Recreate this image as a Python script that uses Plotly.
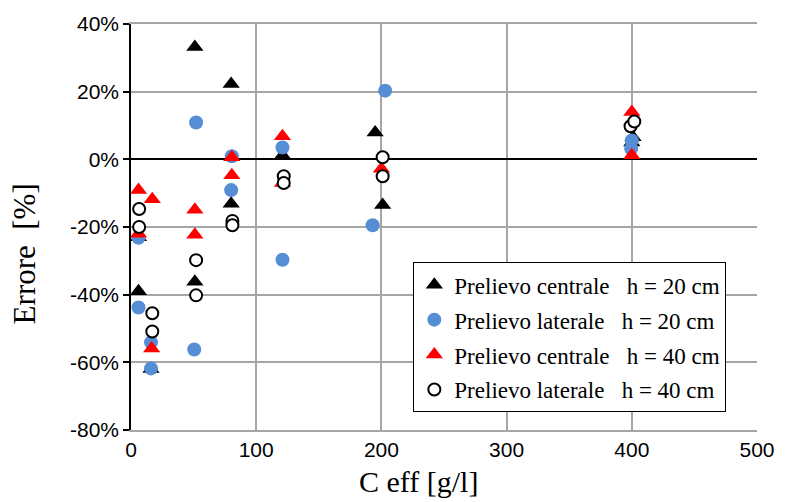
import plotly.graph_objects as go

# Data (x: C eff [g/l], y: Errore [%])
cen20_x = [6, 6, 16, 51, 51, 80, 80, 121, 195, 201, 401, 400]
cen20_y = [-39, -23, -62, 33.2, -36.2, 22.3, -13.1, 1.2, 7.9, -13.5, 6.5, 5]

lat20_x = [6, 6, 16, 16, 52, 50.5, 80.5, 80, 121, 121, 193, 203, 400, 399.5]
lat20_y = [-23.2, -43.8, -54.1, -61.8, 10.9, -56.2, 0.9, -9.1, 3.5, -29.7, -19.5, 20.3, 5.6, 3.2]

cen40_x = [6, 6, 17, 16.5, 51, 51, 80.5, 80.5, 121, 121, 200, 400, 400]
cen40_y = [-9.1, -22, -11.8, -55.9, -14.9, -22.3, 0.6, -4.7, 6.8, -7, -2.8, 14, 1.2]

lat40_x = [6.5, 6.5, 17, 17, 52, 52, 81, 81, 122, 122, 201, 201, 399, 402]
lat40_y = [-14.7, -20, -45.5, -50.9, -29.8, -40.2, -18.2, -19.5, -5, -7, 0.6, -5, 9.8, 11.2]

names = [
    "Prelievo centrale\u00a0\u00a0 h = 20 cm",
    "Prelievo laterale\u00a0\u00a0 h = 20 cm",
    "Prelievo centrale\u00a0\u00a0 h = 40 cm",
    "Prelievo laterale\u00a0\u00a0 h = 40 cm",
]

y_tickvals = [40, 20, 0, -20, -40, -60, -80]
y_ticktext = ["40%", "20%", "0%", "-20%", "-40%", "-60%", "-80%"]
x_tickvals = [0, 100, 200, 300, 400, 500]

fig = go.Figure()
fig.add_trace(go.Scatter(x=cen20_x, y=cen20_y, mode="markers", name=names[0], legendgroup="a",
                         marker=dict(symbol="triangle-up", size=15, color="black")))
fig.add_trace(go.Scatter(x=lat20_x, y=lat20_y, mode="markers", name=names[1], legendgroup="b",
                         marker=dict(symbol="circle", size=14, color="#558ED5")))
fig.add_trace(go.Scatter(x=cen40_x, y=cen40_y, mode="markers", name=names[2], legendgroup="c",
                         marker=dict(symbol="triangle-up", size=15, color="#FF0000")))
fig.add_trace(go.Scatter(x=lat40_x, y=lat40_y, mode="markers", name=names[3], legendgroup="d",
                         marker=dict(symbol="circle", size=12, color="white",
                                     line=dict(color="black", width=2))))

grid = "#A6A6A6"
fig.update_layout(
    width=787, height=502,
    margin=dict(l=131, r=18, t=18, b=72),
    paper_bgcolor="white", plot_bgcolor="white",
    font=dict(family="Liberation Sans", size=21, color="black"),
    showlegend=True,
    legend=dict(x=0.451, y=0.413, xanchor="left", yanchor="top",
                bgcolor="white", bordercolor="black", borderwidth=1,
                font=dict(family="Liberation Serif", size=23, color="black"),
                tracegroupgap=2, traceorder="grouped"),
    xaxis=dict(range=[0, 500], tickvals=x_tickvals, showgrid=True, gridcolor=grid, gridwidth=1.5,
               showline=True, linecolor=grid, linewidth=1.5, mirror=True, zeroline=False,
               ticks="", tickfont=dict(family="Liberation Sans", size=21)),
    yaxis=dict(range=[-80, 40], tickvals=y_tickvals, ticktext=y_ticktext, showgrid=True,
               gridcolor=grid, gridwidth=1.5, zeroline=True, zerolinecolor="black", zerolinewidth=1.5,
               showline=True, linecolor="black", linewidth=1.5, ticks="outside", ticklen=6,
               tickcolor="black", tickwidth=1.5, tickfont=dict(family="Liberation Sans", size=21)),
    annotations=[
        dict(text="C eff [g/l]", xref="paper", yref="paper", x=0.46, y=-0.127,
             xanchor="center", yanchor="middle", showarrow=False,
             font=dict(family="Liberation Serif", size=30, color="black")),
        dict(text="Errore\u00a0 [%]", xref="paper", yref="paper", x=-0.17, y=0.434,
             xanchor="center", yanchor="middle", showarrow=False, textangle=-90,
             font=dict(family="Liberation Serif", size=31, color="black")),
    ],
)

fig.write_html("out.html")
